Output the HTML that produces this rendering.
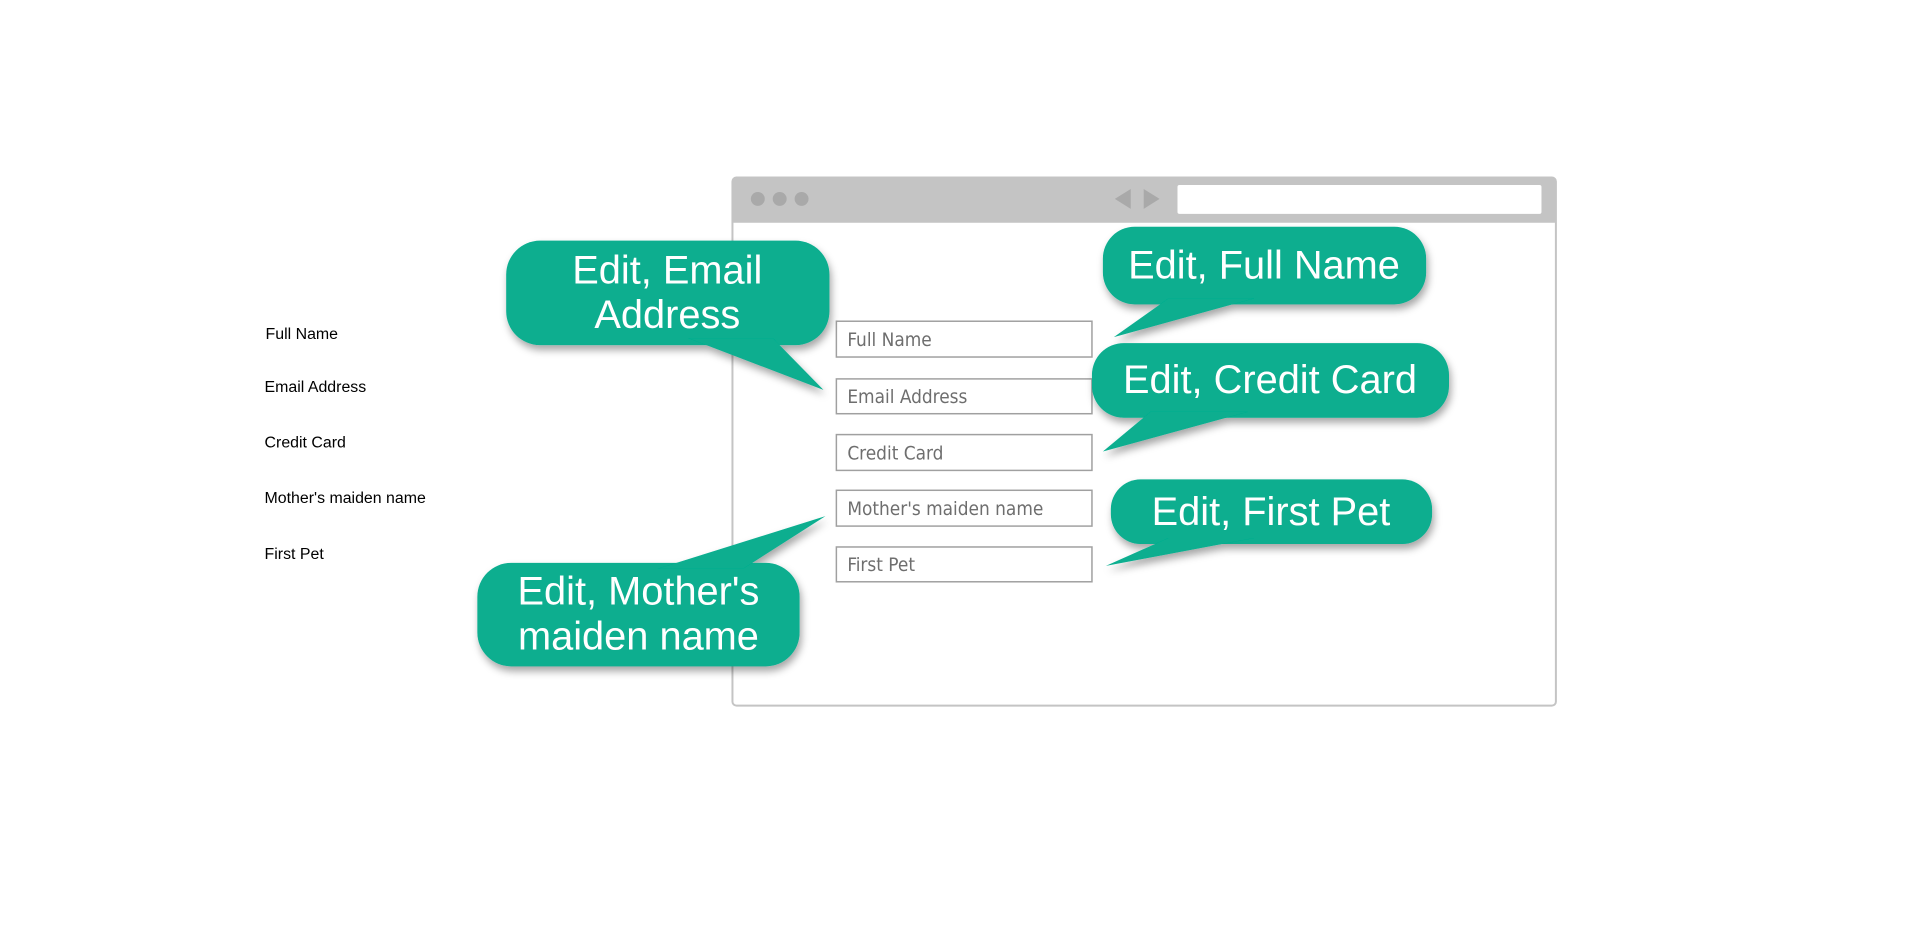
<!DOCTYPE html>
<html><head><meta charset="utf-8"><style>
html,body{margin:0;padding:0;background:#fff;}
svg{display:block}
</style></head><body>
<svg width="1910" height="934" viewBox="0 0 1910 934" xmlns="http://www.w3.org/2000/svg">
<defs>
<filter id="sh" x="-20%" y="-20%" width="140%" height="150%">
<feDropShadow dx="2" dy="5" stdDeviation="4" flood-color="#000" flood-opacity="0.35"/>
</filter>
</defs>
<g transform="scale(0.9945)">
<!-- left labels -->
<g font-family="Liberation Sans, Arial, sans-serif" font-size="16" fill="#000">
<text x="267" y="341">Full Name</text>
<text x="266" y="394">Email Address</text>
<text x="266" y="450">Credit Card</text>
<text x="266" y="506">Mother's maiden name</text>
<text x="266" y="562">First Pet</text>
</g>
<!-- browser -->
<rect x="736.5" y="178.5" width="828" height="531" rx="4" fill="#fff" stroke="#c4c4c4" stroke-width="2"/>
<path d="M736 182 a4 4 0 0 1 4 -4 h821 a4 4 0 0 1 4 4 v42 h-829 z" fill="#c4c4c4"/>
<circle cx="762" cy="200" r="7" fill="#a9a9a9"/>
<circle cx="784" cy="200" r="7" fill="#a9a9a9"/>
<circle cx="806" cy="200" r="7" fill="#a9a9a9"/>
<polygon points="1121,200 1137,190 1137,210" fill="#a9a9a9"/>
<polygon points="1166,200 1150,190 1150,210" fill="#a9a9a9"/>
<rect x="1184" y="186" width="366" height="29" rx="2" fill="#fff"/>
<!-- inputs -->
<g fill="#fff" stroke="#a0a0a0" stroke-width="1.5">
<rect x="841" y="323" width="257" height="36"/>
<rect x="841" y="381" width="257" height="35"/>
<rect x="841" y="437" width="257" height="36"/>
<rect x="841" y="493" width="257" height="36"/>
<rect x="841" y="550" width="257" height="35"/>
</g>
<g font-family="DejaVu Sans Condensed, Liberation Sans, sans-serif" font-size="19" fill="#6e6e6e">
<text x="852" y="348">Full Name</text>
<text x="852" y="405">Email Address</text>
<text x="852" y="462">Credit Card</text>
<text x="852" y="518">Mother's maiden name</text>
<text x="852" y="574">First Pet</text>
</g>
<!-- bubbles -->
<g fill="#07ae8f" filter="url(#sh)">
<rect x="509" y="242" width="325" height="105" rx="34"/>
<polygon points="692,340 777,340 828,392"/>
<rect x="1109" y="228" width="325" height="78" rx="32"/>
<polygon points="1175,300 1261,300 1120,339"/>
<rect x="1098" y="345" width="359" height="75" rx="32"/>
<polygon points="1157,414 1255,414 1109,454"/>
<rect x="1117" y="482" width="323" height="65" rx="30"/>
<polygon points="1175,541 1261,541 1112,569"/>
<rect x="480" y="566" width="324" height="104" rx="34"/>
<polygon points="661,572 747,572 830,519"/>
</g>
<g font-family="Liberation Sans, Arial, sans-serif" font-size="40" fill="#fff" text-anchor="middle">
<text x="671" y="285">Edit, Email</text>
<text x="671" y="330">Address</text>
<text x="1271" y="280">Edit, Full Name</text>
<text x="1277" y="395">Edit, Credit Card</text>
<text x="1278" y="528">Edit, First Pet</text>
<text x="642" y="608">Edit, Mother's</text>
<text x="642" y="653">maiden name</text>
</g>
</g>
</svg>
</body></html>
